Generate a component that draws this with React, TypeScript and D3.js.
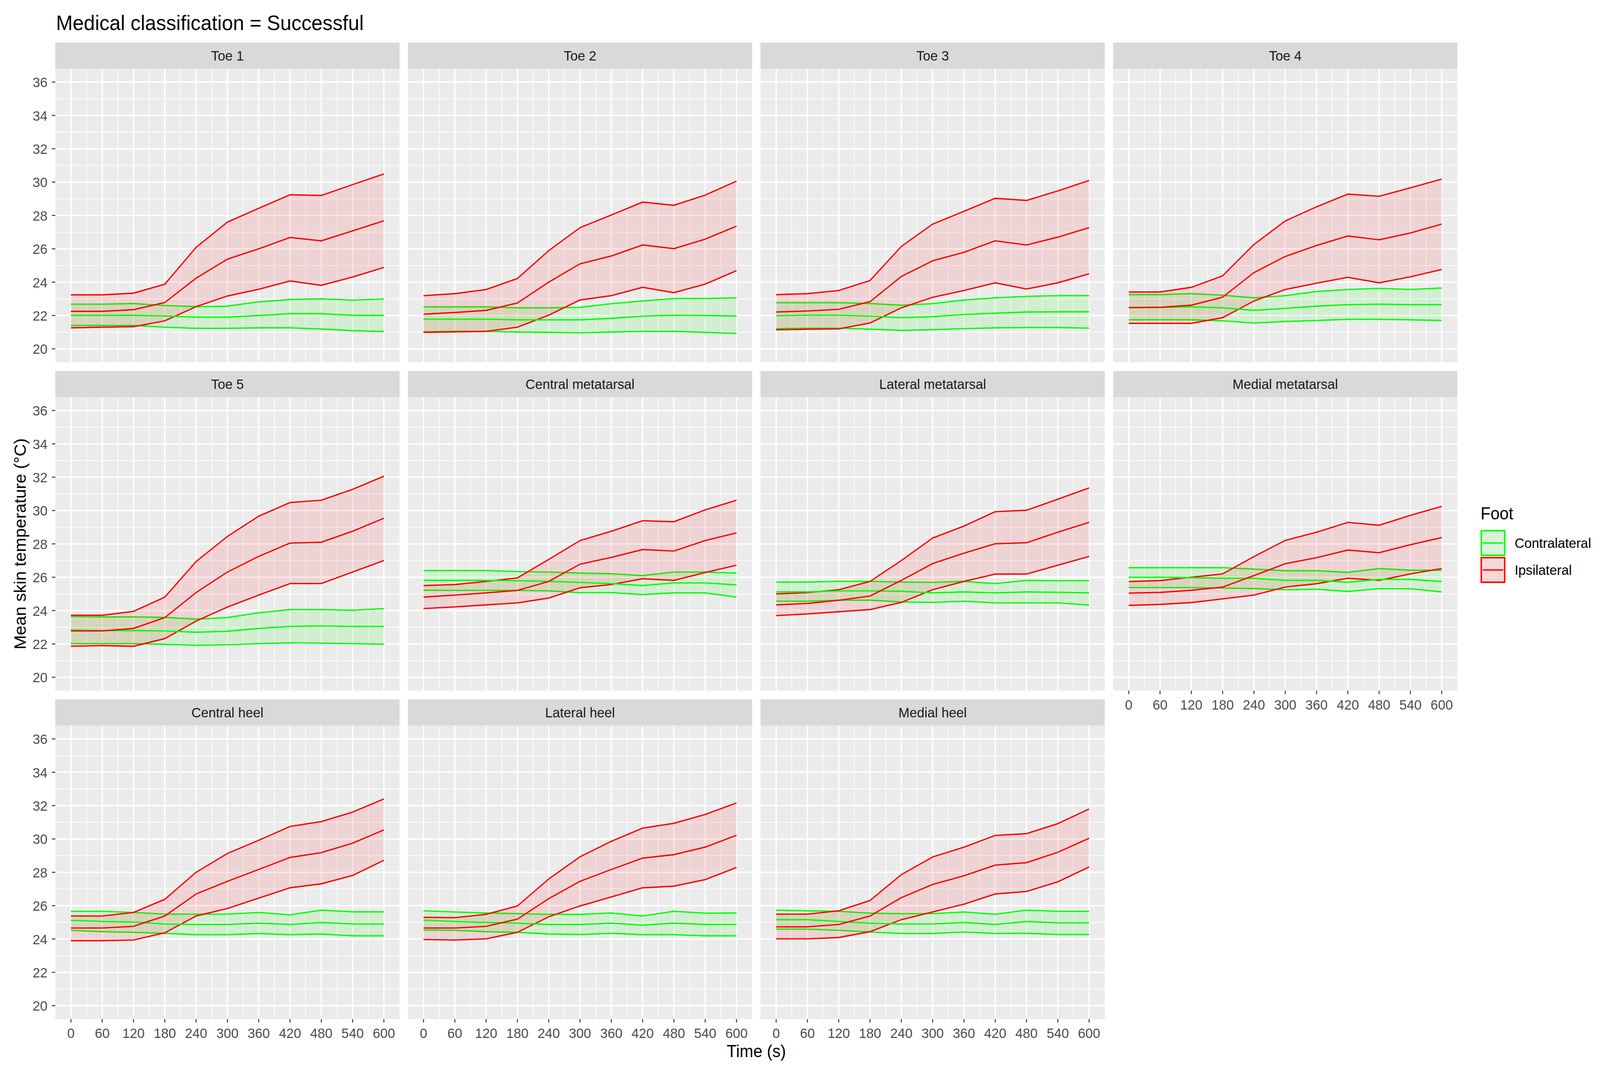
import { useEffect } from "react";
import * as d3 from "d3";

const times = [0, 60, 120, 180, 240, 300, 360, 420, 480, 540, 600];
const tempTicks = [20, 22, 24, 26, 28, 30, 32, 34, 36];
const regions = [
  "Toe 1", "Toe 2", "Toe 3", "Toe 4",
  "Toe 5", "Central metatarsal", "Lateral metatarsal", "Medial metatarsal",
  "Central heel", "Lateral heel", "Medial heel",
];

// one row per region, one value per time point
const ipsiUpper = [
  [23.24, 23.24, 23.34, 23.88, 26.09, 27.6, 28.43, 29.24, 29.2, 29.85, 30.49],
  [23.19, 23.31, 23.56, 24.22, 25.89, 27.27, 28.03, 28.8, 28.61, 29.22, 30.06],
  [23.25, 23.31, 23.5, 24.1, 26.14, 27.48, 28.25, 29.03, 28.9, 29.47, 30.1],
  [23.41, 23.41, 23.69, 24.38, 26.26, 27.67, 28.52, 29.28, 29.15, 29.66, 30.18],
  [23.72, 23.72, 23.95, 24.81, 26.94, 28.45, 29.66, 30.48, 30.62, 31.27, 32.06],
  [25.5, 25.56, 25.75, 25.96, 27.07, 28.2, 28.76, 29.39, 29.33, 30.04, 30.62],
  [25.0, 25.08, 25.25, 25.75, 27.0, 28.35, 29.07, 29.93, 30.02, 30.68, 31.36],
  [25.74, 25.8, 26.0, 26.2, 27.24, 28.21, 28.7, 29.29, 29.12, 29.71, 30.25],
  [25.38, 25.38, 25.59, 26.38, 28.0, 29.13, 29.92, 30.75, 31.04, 31.61, 32.4],
  [25.3, 25.28, 25.48, 25.98, 27.6, 28.93, 29.86, 30.65, 30.94, 31.47, 32.16],
  [25.49, 25.49, 25.69, 26.31, 27.86, 28.92, 29.51, 30.21, 30.32, 30.92, 31.8],
];
const ipsiMean = [
  [22.25, 22.25, 22.35, 22.78, 24.24, 25.38, 26.0, 26.68, 26.48, 27.08, 27.68],
  [22.08, 22.18, 22.31, 22.75, 24.0, 25.1, 25.57, 26.23, 26.01, 26.58, 27.36],
  [22.21, 22.27, 22.37, 22.83, 24.34, 25.28, 25.79, 26.48, 26.23, 26.7, 27.27],
  [22.47, 22.49, 22.62, 23.1, 24.57, 25.54, 26.2, 26.77, 26.54, 26.95, 27.48],
  [22.78, 22.78, 22.93, 23.58, 25.08, 26.31, 27.25, 28.05, 28.1, 28.76, 29.54],
  [24.81, 24.93, 25.06, 25.21, 25.75, 26.78, 27.19, 27.66, 27.57, 28.2, 28.66],
  [24.34, 24.43, 24.62, 24.87, 25.81, 26.82, 27.44, 28.01, 28.07, 28.7, 29.29],
  [25.05, 25.09, 25.22, 25.41, 26.1, 26.81, 27.17, 27.63, 27.47, 27.95, 28.38],
  [24.66, 24.66, 24.76, 25.38, 26.7, 27.46, 28.17, 28.89, 29.18, 29.75, 30.54],
  [24.66, 24.66, 24.76, 25.19, 26.42, 27.46, 28.17, 28.85, 29.06, 29.51, 30.22],
  [24.73, 24.73, 24.87, 25.38, 26.48, 27.27, 27.79, 28.43, 28.58, 29.2, 30.04],
];
const ipsiLower = [
  [21.26, 21.3, 21.33, 21.68, 22.53, 23.17, 23.57, 24.07, 23.81, 24.31, 24.88],
  [20.99, 21.02, 21.05, 21.3, 22.02, 22.93, 23.19, 23.69, 23.37, 23.88, 24.69],
  [21.14, 21.18, 21.2, 21.55, 22.46, 23.09, 23.5, 23.96, 23.59, 23.96, 24.5],
  [21.53, 21.53, 21.53, 21.87, 22.87, 23.56, 23.94, 24.29, 23.96, 24.32, 24.76],
  [21.86, 21.9, 21.86, 22.32, 23.37, 24.21, 24.93, 25.62, 25.62, 26.31, 27.0],
  [24.12, 24.22, 24.34, 24.46, 24.75, 25.37, 25.56, 25.91, 25.81, 26.28, 26.72],
  [23.7, 23.8, 23.93, 24.06, 24.49, 25.25, 25.75, 26.19, 26.19, 26.72, 27.25],
  [24.31, 24.37, 24.48, 24.7, 24.93, 25.41, 25.61, 25.94, 25.81, 26.2, 26.52],
  [23.9, 23.9, 23.94, 24.37, 25.38, 25.83, 26.45, 27.07, 27.31, 27.81, 28.72],
  [23.97, 23.94, 24.01, 24.4, 25.33, 25.98, 26.52, 27.07, 27.17, 27.56, 28.29],
  [24.01, 24.01, 24.09, 24.44, 25.16, 25.62, 26.09, 26.7, 26.85, 27.43, 28.32],
];
const contraUpper = [
  [22.68, 22.68, 22.72, 22.6, 22.53, 22.56, 22.82, 22.96, 23.0, 22.92, 22.99],
  [22.52, 22.52, 22.52, 22.46, 22.46, 22.49, 22.71, 22.87, 23.02, 23.02, 23.06],
  [22.77, 22.77, 22.77, 22.72, 22.62, 22.71, 22.93, 23.06, 23.15, 23.19, 23.19],
  [23.25, 23.25, 23.31, 23.22, 23.06, 23.19, 23.44, 23.56, 23.63, 23.56, 23.65],
  [23.64, 23.62, 23.62, 23.59, 23.49, 23.58, 23.87, 24.06, 24.06, 24.02, 24.12],
  [26.4, 26.4, 26.4, 26.34, 26.31, 26.25, 26.21, 26.1, 26.31, 26.31, 26.25],
  [25.71, 25.71, 25.75, 25.75, 25.71, 25.69, 25.75, 25.62, 25.81, 25.79, 25.79],
  [26.57, 26.57, 26.57, 26.57, 26.49, 26.39, 26.39, 26.29, 26.52, 26.42, 26.42],
  [25.66, 25.66, 25.59, 25.49, 25.49, 25.49, 25.59, 25.45, 25.73, 25.63, 25.63],
  [25.69, 25.62, 25.56, 25.52, 25.48, 25.48, 25.56, 25.38, 25.66, 25.55, 25.56],
  [25.73, 25.69, 25.66, 25.55, 25.52, 25.52, 25.62, 25.48, 25.73, 25.66, 25.66],
];
const contraMean = [
  [22.01, 22.01, 22.01, 21.97, 21.9, 21.9, 22.0, 22.11, 22.11, 22.01, 22.01],
  [21.78, 21.78, 21.78, 21.74, 21.74, 21.74, 21.83, 21.96, 22.02, 22.0, 21.97],
  [21.99, 22.02, 22.02, 21.96, 21.87, 21.93, 22.06, 22.14, 22.21, 22.22, 22.22],
  [22.49, 22.49, 22.52, 22.46, 22.31, 22.43, 22.56, 22.65, 22.68, 22.65, 22.65],
  [22.84, 22.8, 22.8, 22.78, 22.7, 22.76, 22.93, 23.05, 23.08, 23.05, 23.05],
  [25.81, 25.81, 25.81, 25.79, 25.75, 25.69, 25.62, 25.5, 25.66, 25.66, 25.54],
  [25.12, 25.12, 25.18, 25.18, 25.16, 25.06, 25.12, 25.06, 25.12, 25.1, 25.06],
  [26.0, 26.0, 25.97, 25.94, 25.94, 25.81, 25.81, 25.7, 25.87, 25.87, 25.74],
  [25.12, 25.05, 25.02, 24.9, 24.87, 24.87, 24.95, 24.87, 24.99, 24.9, 24.9],
  [25.13, 25.05, 24.99, 24.95, 24.87, 24.87, 24.95, 24.83, 24.95, 24.87, 24.87],
  [25.16, 25.16, 25.05, 24.95, 24.9, 24.9, 24.99, 24.87, 25.05, 24.97, 24.97],
];
const contraLower = [
  [21.4, 21.4, 21.4, 21.3, 21.23, 21.23, 21.26, 21.26, 21.19, 21.09, 21.04],
  [21.02, 21.05, 21.05, 21.01, 20.99, 20.96, 21.01, 21.05, 21.05, 20.99, 20.92],
  [21.21, 21.24, 21.24, 21.18, 21.11, 21.15, 21.21, 21.26, 21.28, 21.28, 21.24],
  [21.74, 21.74, 21.74, 21.68, 21.55, 21.64, 21.7, 21.77, 21.77, 21.74, 21.7],
  [22.02, 22.02, 22.02, 21.98, 21.92, 21.95, 22.02, 22.07, 22.05, 22.02, 21.98],
  [25.22, 25.21, 25.21, 25.21, 25.18, 25.08, 25.08, 24.96, 25.06, 25.06, 24.81],
  [24.56, 24.56, 24.62, 24.62, 24.52, 24.49, 24.56, 24.46, 24.46, 24.46, 24.33],
  [25.38, 25.38, 25.38, 25.35, 25.32, 25.25, 25.28, 25.15, 25.31, 25.31, 25.12],
  [24.52, 24.44, 24.4, 24.34, 24.26, 24.26, 24.33, 24.26, 24.3, 24.19, 24.19],
  [24.54, 24.52, 24.44, 24.4, 24.3, 24.27, 24.34, 24.26, 24.26, 24.19, 24.19],
  [24.59, 24.59, 24.52, 24.42, 24.33, 24.33, 24.42, 24.33, 24.34, 24.27, 24.27],
];

const feet = [
  { name: "Contralateral", color: "#00FF00", lower: contraLower, mean: contraMean, upper: contraUpper },
  { name: "Ipsilateral", color: "#FF0000", lower: ipsiLower, mean: ipsiMean, upper: ipsiUpper },
];

const FONT = "'Liberation Sans', Arial, sans-serif";

export default function App() {
  useEffect(() => {
    document.body.style.margin = "0";
    document.body.style.overflow = "hidden";
  }, []);

  const width = 4313;
  const height = 2740;
  const cols = 4;
  const panelW = 928;
  const panelH = 751.5;
  const stripH = 67;
  const gap = 22.5;
  const left = 149;
  const top = 109;

  const x = d3.scaleLinear().domain([-30, 630]).range([0, panelW]);
  const y = d3.scaleLinear().domain([19.2, 36.8]).range([panelH, 0]);
  const xMinor = d3.range(30, 600, 60);
  const yMinor = d3.range(21, 36, 2);

  const line = d3.line<number>().x((_, i) => x(times[i])).y((d) => y(d));
  const area = (lo: number[], hi: number[]) =>
    d3.area<number>()
      .x((_, i) => x(times[i]))
      .y0((_, i) => y(lo[i]))
      .y1((_, i) => y(hi[i]))(times);

  const lw = 3.4;

  return (
    <svg viewBox={`0 0 ${width} ${height}`} preserveAspectRatio="none"
      style={{ position: "fixed", left: 0, top: 0, width: "100vw", height: "100vh", background: "#fff" }}
      fontFamily={FONT}>
      <rect width={width} height={height} fill="#fff" />
      <text x={151} y={77} fontSize={54} fill="#000">Medical classification = Successful</text>

      {regions.map((region, r) => {
        const col = r % cols;
        const row = Math.floor(r / cols);
        const px = left + col * (panelW + gap);
        const sy = top + row * (stripH + panelH + gap);
        const bottomAxis = r + cols >= regions.length;
        return (
          <g key={region} transform={`translate(${px},${sy})`}>
            <rect width={panelW} height={stripH} fill="#D9D9D9" />
            <text x={panelW / 2} y={stripH / 2} dy="0.36em" textAnchor="middle" fontSize={36} fill="#1A1A1A">{region}</text>
            <g transform={`translate(0,${stripH})`}>
              <rect width={panelW} height={panelH} fill="#EBEBEB" />
              {xMinor.map((t) => <line key={"xm" + t} x1={x(t)} x2={x(t)} y1={0} y2={panelH} stroke="#fff" strokeWidth={1.8} />)}
              {yMinor.map((t) => <line key={"ym" + t} x1={0} x2={panelW} y1={y(t)} y2={y(t)} stroke="#fff" strokeWidth={1.8} />)}
              {times.map((t) => <line key={"xM" + t} x1={x(t)} x2={x(t)} y1={0} y2={panelH} stroke="#fff" strokeWidth={3.6} />)}
              {tempTicks.map((t) => <line key={"yM" + t} x1={0} x2={panelW} y1={y(t)} y2={y(t)} stroke="#fff" strokeWidth={3.6} />)}

              {feet.map((f) => (
                <g key={"rib" + f.name}>
                  <path d={area(f.lower[r], f.upper[r]) ?? ""} fill={f.color} fillOpacity={0.1} />
                  <path d={line(f.upper[r]) ?? ""} fill="none" stroke={f.color} strokeWidth={lw} />
                  <path d={line(f.lower[r]) ?? ""} fill="none" stroke={f.color} strokeWidth={lw} />
                </g>
              ))}
              {feet.map((f) => (
                <path key={"mean" + f.name} d={line(f.mean[r]) ?? ""} fill="none" stroke={f.color} strokeWidth={lw} />
              ))}

              {col === 0 && tempTicks.map((t) => (
                <g key={"yt" + t} transform={`translate(0,${y(t)})`}>
                  <line x1={-9} x2={0} stroke="#333333" strokeWidth={2.5} />
                  <text x={-21} dy="0.36em" textAnchor="end" fontSize={36} fill="#4D4D4D">{t}</text>
                </g>
              ))}
              {bottomAxis && times.map((t) => (
                <g key={"xt" + t} transform={`translate(${x(t)},${panelH})`}>
                  <line y1={0} y2={9} stroke="#333333" strokeWidth={2.5} />
                  <text y={36} dy="0.36em" textAnchor="middle" fontSize={36} fill="#4D4D4D">{t}</text>
                </g>
              ))}
            </g>
          </g>
        );
      })}

      <text x={left + (cols * panelW + (cols - 1) * gap) / 2} y={2707} textAnchor="middle" fontSize={44} fill="#000">Time (s)</text>
      <text transform={`translate(70,${top + stripH + (3 * panelH + 2 * (stripH + gap)) / 2}) rotate(-90)`}
        textAnchor="middle" fontSize={44} fill="#000">Mean skin temperature (°C)</text>

      <g transform="translate(3991,1300)">
        <text x={0} y={30} fontSize={44} fill="#000">Foot</text>
        {feet.map((f, i) => (
          <g key={"leg" + f.name} transform={`translate(0,${57 + i * 69})`}>
            <rect width={67} height={67} fill="#F2F2F2" />
            <rect x={2} y={2} width={63} height={63} fill={f.color} fillOpacity={0.1} stroke={f.color} strokeWidth={4} />
            <line x1={6} x2={61} y1={33.5} y2={33.5} stroke={f.color} strokeWidth={lw} />
            <text x={92} y={33.5} dy="0.36em" fontSize={36} fill="#000">{f.name}</text>
          </g>
        ))}
      </g>
    </svg>
  );
}
